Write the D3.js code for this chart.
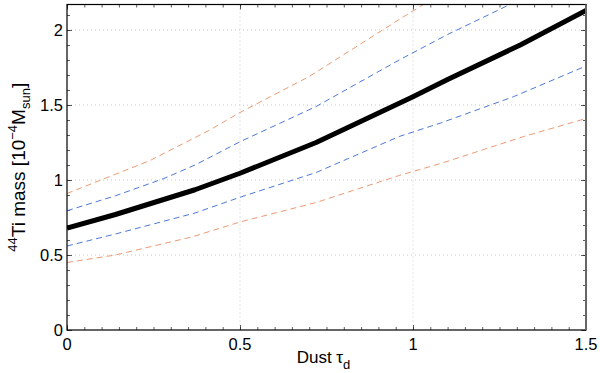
<!DOCTYPE html>
<html>
<head>
<meta charset="utf-8">
<style>
  body { margin: 0; background: #fff; }
  svg { display: block; font-family: "Liberation Sans", Arial, sans-serif; }
  text { fill: #000; }
</style>
</head>
<body>
<div id="chartId"></div>
<script src="https://cdn.jsdelivr.net/npm/d3@7/dist/d3.min.js"></script>
<script>

// Data (tau_d vs 44Ti mass in 1e-4 Msun)
const bestTau  = [0, 0.14, 0.37, 0.5, 0.72, 1.0, 1.1, 1.31, 1.5];
const bestMass = [0.68, 0.77, 0.935, 1.045, 1.25, 1.555, 1.67, 1.90, 2.13];

const hiBlueTau  = [0, 0.14, 0.28, 0.37, 0.5, 0.72, 0.96, 1.1, 1.28, 1.4];
const hiBlueMass = [0.795, 0.895, 1.01, 1.10, 1.255, 1.49, 1.80, 1.97, 2.17, 2.30];

const loBlueTau  = [0, 0.14, 0.37, 0.5, 0.72, 0.96, 1.08, 1.29, 1.5];
const loBlueMass = [0.56, 0.64, 0.78, 0.885, 1.05, 1.29, 1.38, 1.555, 1.76];

const hiOrangeTau  = [0, 0.12, 0.24, 0.41, 0.5, 0.7, 0.96, 1.03, 1.15];
const hiOrangeMass = [0.91, 1.02, 1.13, 1.33, 1.45, 1.69, 2.07, 2.17, 2.34];

const loOrangeTau  = [0, 0.14, 0.36, 0.5, 0.72, 0.96, 1.08, 1.32, 1.5];
const loOrangeMass = [0.45, 0.50, 0.62, 0.72, 0.85, 1.03, 1.11, 1.29, 1.41];

const xMajor = [0, 0.5, 1, 1.5];
const yMajor = [0, 0.5, 1, 1.5, 2];

const W = 600, H = 373;
const margin = {top: 4.5, right: 14, bottom: 43, left: 67};
const width = W - margin.left - margin.right;
const height = H - margin.top - margin.bottom;

const x = d3.scaleLinear().domain([0, 1.5]).range([0, width]);
const y = d3.scaleLinear().domain([0, 2.17]).range([height, 0]);

const svg = d3.select('#chartId').append('svg')
  .attr('width', W).attr('height', H);

const chart = svg.append('g')
  .attr('transform', 'translate(' + margin.left + ',' + margin.top + ')');

svg.append('defs').append('clipPath').attr('id', 'plotClip')
  .append('rect').attr('width', width).attr('height', height);

// dotted grid
chart.append('g').selectAll('line').data(xMajor.slice(1, -1)).enter().append('line')
  .attr('x1', d => x(d)).attr('x2', d => x(d))
  .attr('y1', 0).attr('y2', height)
  .attr('stroke', '#c8c8c8').attr('stroke-width', 1).attr('stroke-dasharray', '1,3');
chart.append('g').selectAll('line').data(yMajor.slice(1)).enter().append('line')
  .attr('x1', 0).attr('x2', width)
  .attr('y1', d => y(d)).attr('y2', d => y(d))
  .attr('stroke', '#c8c8c8').attr('stroke-width', 1).attr('stroke-dasharray', '1,3');

// minor ticks
const xMinor = d3.range(0, 31).map(i => i * 0.05);
const yMinor = d3.range(0, 22).map(i => i * 0.1);

function tickAxis(axis, ticks, len) {
  return axis.tickValues(ticks).tickSize(len).tickSizeOuter(0).tickFormat('');
}
[[d3.axisTop(x), xMinor, 3, 'translate(0,' + height + ')'],
 [d3.axisTop(x), xMajor, 5, 'translate(0,' + height + ')'],
 [d3.axisBottom(x), xMinor, 3, 'translate(0,0)'],
 [d3.axisBottom(x), xMajor, 5, 'translate(0,0)'],
 [d3.axisRight(y), yMinor, 3, 'translate(0,0)'],
 [d3.axisRight(y), yMajor, 5, 'translate(0,0)'],
 [d3.axisLeft(y), yMinor, 3, 'translate(' + width + ',0)'],
 [d3.axisLeft(y), yMajor, 5, 'translate(' + width + ',0)']
].forEach(a => {
  const g = chart.append('g').attr('transform', a[3]).call(tickAxis(a[0], a[1], a[2]));
  g.select('.domain').remove();
  g.selectAll('line').attr('stroke', '#333').attr('stroke-width', 0.8);
});

// lines
const line = d3.line().x(d => x(d[0])).y(d => y(d[1]));
const series = [
  {tau: hiOrangeTau, mass: hiOrangeMass, color: '#ec9a72', w: 1, dash: '6,4'},
  {tau: loOrangeTau, mass: loOrangeMass, color: '#ec9a72', w: 1, dash: '6,4'},
  {tau: hiBlueTau, mass: hiBlueMass, color: '#4c78d6', w: 1, dash: '6,4'},
  {tau: loBlueTau, mass: loBlueMass, color: '#4c78d6', w: 1, dash: '6,4'},
  {tau: bestTau, mass: bestMass, color: '#000', w: 5, dash: null}
];
const lines = chart.append('g').attr('clip-path', 'url(#plotClip)');
series.forEach(s => {
  lines.append('path')
    .datum(d3.zip(s.tau, s.mass))
    .attr('fill', 'none')
    .attr('stroke', s.color)
    .attr('stroke-width', s.w)
    .attr('stroke-dasharray', s.dash)
    .attr('stroke-linejoin', 'round')
    .attr('d', line);
});

// frame
chart.append('rect').attr('width', width).attr('height', height)
  .attr('fill', 'none').attr('stroke', '#000').attr('stroke-width', 1.2);
chart.append('line').attr('x1', width).attr('x2', width).attr('y1', 0).attr('y2', height)
  .attr('stroke', '#666').attr('stroke-width', 2);

// tick labels
const fmt = d => d === 0 ? '0' : d3.format('')(d);
chart.append('g').selectAll('text').data(xMajor).enter().append('text')
  .attr('x', d => x(d)).attr('y', height + 20)
  .attr('text-anchor', 'middle').style('font-size', '16.5px')
  .text(fmt);
chart.append('g').selectAll('text').data(yMajor).enter().append('text')
  .attr('x', -4).attr('y', d => y(d) + 6)
  .attr('text-anchor', 'end').style('font-size', '16.5px')
  .text(fmt);

// axis titles
const xt = chart.append('text')
  .attr('x', width / 2 - 3).attr('y', height + 33)
  .attr('text-anchor', 'middle').style('font-size', '17px');
xt.append('tspan').text('Dust \u03C4');
xt.append('tspan').attr('dy', 6).style('font-size', '13px').text('d');

const yt = chart.append('text')
  .attr('transform', 'translate(' + (-42) + ',' + (height / 2) + ') rotate(-90)')
  .attr('text-anchor', 'middle').style('font-size', '19px');
yt.append('tspan').attr('dy', -8).style('font-size', '13px').text('44');
yt.append('tspan').attr('dy', 8).text('Ti mass [10');
yt.append('tspan').attr('dy', -8).style('font-size', '13px').text('\u22124');
yt.append('tspan').attr('dy', 8).text('M');
yt.append('tspan').attr('dy', 5).style('font-size', '13px').text('sun');
yt.append('tspan').attr('dy', -5).text(']');

</script>
</body>
</html>
